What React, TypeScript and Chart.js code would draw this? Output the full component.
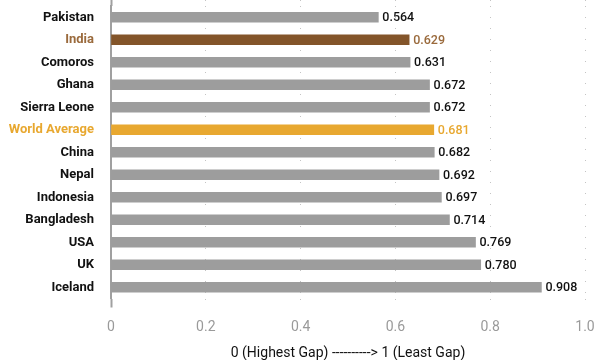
import React, { useEffect, useRef } from "react";
import { Chart, registerables } from "chart.js";

Chart.register(...registerables);

const countries = [
  "Pakistan", "India", "Comoros", "Ghana", "Sierra Leone", "World Average",
  "China", "Nepal", "Indonesia", "Bangladesh", "USA", "UK", "Iceland",
];
const gapIndex = [0.564, 0.629, 0.631, 0.672, 0.672, 0.681, 0.682, 0.692, 0.697, 0.714, 0.769, 0.78, 0.908];
const xTicks = [0, 0.2, 0.4, 0.6, 0.8, 1.0];
const axisTitle = "0 (Highest Gap) ----------> 1 (Least Gap)";

const GRAY_BAR = "#9d9d9d";
const INDIA_BAR = "#83552a";
const WORLD_BAR = "#e8a830";
const INDIA_TEXT = "#9a6a3c";
const WORLD_TEXT = "#e8a830";

const barColor = (name: string) =>
  name === "India" ? INDIA_BAR : name === "World Average" ? WORLD_BAR : GRAY_BAR;
const textColor = (name: string) =>
  name === "India" ? INDIA_TEXT : name === "World Average" ? WORLD_TEXT : "#111111";

const valueLabels = {
  id: "valueLabels",
  afterDatasetsDraw(chart: any) {
    const ctx = chart.ctx;
    const meta = chart.getDatasetMeta(0);
    ctx.save();
    ctx.font = "500 12.5px Roboto";
    ctx.textAlign = "left";
    ctx.textBaseline = "middle";
    meta.data.forEach((el: any, i: number) => {
      ctx.fillStyle = textColor(countries[i]);
      ctx.fillText(gapIndex[i].toFixed(3), el.x + 4, el.y + 1);
    });
    ctx.restore();
  },
};

const tickDash = (ctx: any) => (ctx.tick && ctx.tick.value === 0 ? [] : [1, 10]);
const tickCol = (ctx: any) => (ctx.tick && ctx.tick.value === 0 ? "#a0a0a0" : "#c4c4c4");
const tickW = (ctx: any) => (ctx.tick && ctx.tick.value === 0 ? 2 : 1);

export default function App() {
  const ref = useRef<HTMLCanvasElement>(null);
  useEffect(() => {
    document.body.style.margin = "0";
    const chart = new Chart(ref.current!, {
      type: "bar",
      data: {
        labels: countries,
        datasets: [
          {
            data: gapIndex,
            backgroundColor: countries.map(barColor),
            barThickness: 10,
          },
        ],
      },
      options: {
        indexAxis: "y",
        animation: false,
        responsive: false,
        layout: { padding: { left: 0, right: 15, top: 0, bottom: 0 } },
        plugins: { legend: { display: false }, tooltip: { enabled: false } },
        scales: {
          x: {
            type: "linear",
            position: "bottom",
            min: 0,
            max: 1,
            afterBuildTicks: (s: any) => {
              s.ticks = xTicks.map((v) => ({ value: v }));
            },
            ticks: {
              color: "#9a9a9a",
              font: { family: "Roboto", size: 14 },
              padding: 12,
              callback: (v: any) => (Number(v) === 0 ? "0" : Number(v).toFixed(1)),
            },
            grid: {
              color: "#c4c4c4",
              lineWidth: 1,
              drawTicks: true,
              tickLength: 9,
              tickBorderDash: tickDash,
              tickColor: tickCol,
              tickWidth: tickW,
            },
            border: { display: false, dash: [1, 10] },
            title: {
              display: true,
              text: axisTitle,
              color: "#111111",
              font: { family: "Roboto", size: 14, lineHeight: 1 },
              padding: { top: 0, bottom: 0 },
            },
            afterFit: (s: any) => {
              s.height = 61.5;
              s.paddingLeft = 0;
              s.paddingRight = 0;
            },
          },
          x2: {
            type: "linear",
            position: "top",
            min: 0,
            max: 1,
            afterBuildTicks: (s: any) => {
              s.ticks = xTicks.map((v) => ({ value: v }));
            },
            ticks: { display: false },
            grid: {
              drawOnChartArea: false,
              drawTicks: true,
              tickLength: 6,
              tickBorderDash: tickDash,
              tickColor: tickCol,
              tickWidth: tickW,
            },
            border: { display: false },
            afterFit: (s: any) => {
              s.height = 6;
              s.paddingLeft = 0;
              s.paddingRight = 0;
            },
          },
          y: {
            type: "category",
            offset: true,
            ticks: {
              color: (c: any) => textColor(countries[c.index]),
              font: { family: "Roboto", size: 13, weight: "bold" },
              padding: 17,
            },
            grid: { display: false, drawTicks: false },
            border: { display: true, color: "#a0a0a0", width: 2 },
            afterFit: (s: any) => {
              s.width = 111;
              s.paddingTop = 0;
              s.paddingBottom = 0;
            },
          },
        },
      },
      plugins: [valueLabels],
    } as any);
    return () => chart.destroy();
  }, []);
  return <canvas ref={ref} width={600} height={360} style={{ display: "block" }} />;
}
